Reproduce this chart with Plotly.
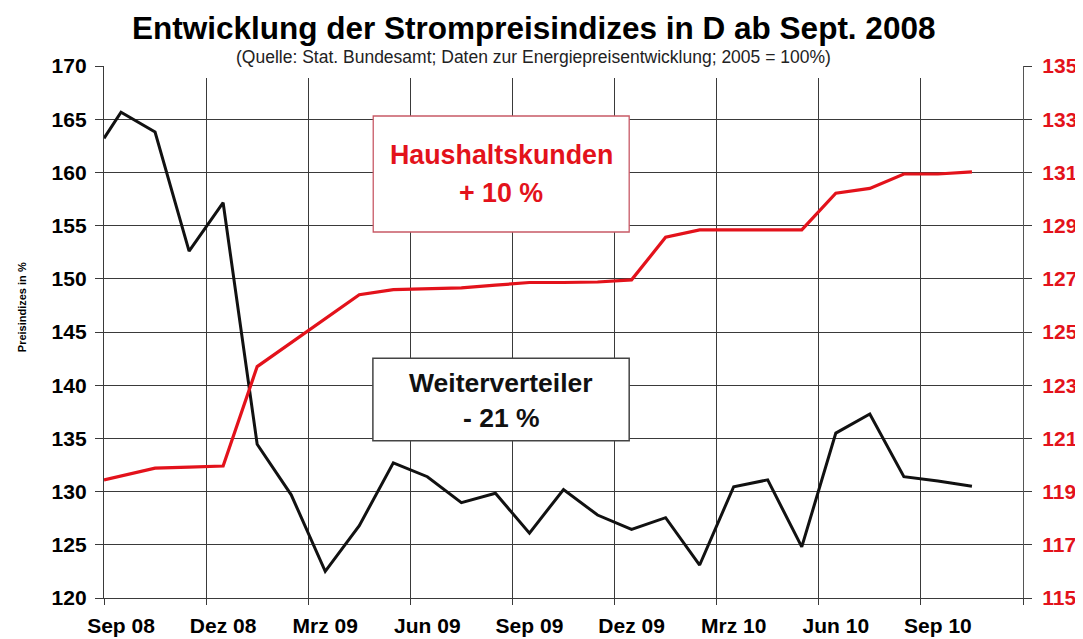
import plotly.graph_objects as go

# ---- data ----
month_labels = ["Sep 08", "Dez 08", "Mrz 09", "Jun 09", "Sep 09", "Dez 09", "Mrz 10", "Jun 10", "Sep 10"]
label_pos = [0.5, 3.5, 6.5, 9.5, 12.5, 15.5, 18.5, 21.5, 24.5]
grid_pos = [0, 3, 6, 9, 12, 15, 18, 21, 24, 27]

weiter_x = [0, 0.5, 1.5, 2.5, 3.5, 4.5, 5.5, 6.5, 7.5, 8.5, 9.5, 10.5, 11.5, 12.5,
            13.5, 14.5, 15.5, 16.5, 17.5, 18.5, 19.5, 20.5, 21.5, 22.5, 23.5, 24.5, 25.5]
weiter_y = [163.2, 165.65, 163.8, 152.6, 157.15, 134.45, 129.7, 122.5, 126.8, 132.7, 131.4, 128.96,
            129.84, 126.1, 130.2, 127.8, 126.45, 127.55, 123.1, 130.46, 131.1, 124.8, 135.5, 137.3,
            131.4, 131.0, 130.5]

haushalt_x = [0, 1.5, 2.5, 3.5, 4.5, 5.5, 6.5, 7.5, 8.5, 9.5, 10.5, 11.5, 12.5, 13.5,
              14.5, 15.5, 16.5, 17.5, 18.5, 19.5, 20.5, 21.5, 22.5, 23.5, 24.5, 25.5]
haushalt_y = [119.44, 119.88, 119.92, 119.96, 123.7, 124.6, 125.5, 126.4, 126.59, 126.64, 126.66,
              126.76, 126.86, 126.86, 126.88, 126.96, 128.56, 128.84, 128.84, 128.84, 128.84,
              130.22, 130.4, 130.94, 130.94, 131.02]

FONT = "Arial, Liberation Sans, sans-serif"
RED = "#e3121b"
GRID = "#3a3a3a"

fig = go.Figure()
fig.add_trace(go.Scatter(x=weiter_x, y=weiter_y, mode="lines", name="Weiterverteiler",
                         line=dict(color="#111111", width=3), xaxis="x", yaxis="y"))
fig.add_trace(go.Scatter(x=haushalt_x, y=haushalt_y, mode="lines", name="Haushaltskunden",
                         line=dict(color=RED, width=3.2), xaxis="x", yaxis="y2"))

# the page puts the figure 8px in from the top-left corner
fig.update_layout(
    width=1075, height=631,
    margin=dict(l=96, r=60, t=58, b=41, autoexpand=False),
    paper_bgcolor="white", plot_bgcolor="white",
    showlegend=False,
    xaxis=dict(
        range=[0, 27], tickmode="array", tickvals=label_pos, ticktext=month_labels,
        ticks="", showgrid=False, zeroline=False, automargin=False,
        showline=True, linecolor=GRID, linewidth=1.3,
        tickfont=dict(family=FONT, size=21, color="black", weight="bold"),
        ticklabelstandoff=9,
        minor=dict(tickmode="array", tickvals=grid_pos, showgrid=True, gridcolor=GRID,
                   gridwidth=1.3, ticks="outside", ticklen=6, tickcolor=GRID, tickwidth=1.3),
    ),
    yaxis=dict(
        range=[120, 170], tick0=120, dtick=5, showgrid=True, gridcolor=GRID, gridwidth=1.3,
        zeroline=False, ticks="outside", ticklen=8, tickcolor=GRID, tickwidth=1.3,
        showline=True, linecolor=GRID, linewidth=1.3, automargin=False,
        tickfont=dict(family=FONT, size=21, color="black", weight="bold"),
        ticklabelstandoff=4,
    ),
    yaxis2=dict(
        range=[115, 135], tick0=115, dtick=2, overlaying="y", side="right", anchor="x",
        showgrid=False, zeroline=False, ticks="outside", ticklen=8, tickcolor=GRID, tickwidth=1.3,
        showline=True, linecolor="#555555", linewidth=1.3, automargin=False,
        tickfont=dict(family=FONT, size=21, color=RED, weight="bold"),
        ticklabelstandoff=6,
    ),
)

# white band behind subtitle hiding the top gridline
fig.add_shape(type="rect", xref="paper", yref="paper", x0=0.026, x1=0.906, y0=0.9774, y1=1.06,
              fillcolor="white", line=dict(width=0), layer="above")

# label boxes
fig.add_shape(type="rect", xref="x", yref="y", x0=7.91, x1=15.43, y0=154.4, y1=165.3,
              fillcolor="white", line=dict(color="#c85a66", width=1.3), layer="above")
fig.add_shape(type="rect", xref="x", yref="y", x0=7.9, x1=15.43, y0=134.78, y1=142.53,
              fillcolor="white", line=dict(color="#444444", width=1.5), layer="above")

def txt(x, y, s, size, color, bold=True, xref="x", yref="y", **kw):
    fig.add_annotation(x=x, y=y, xref=xref, yref=yref, text=s, showarrow=False,
                       font=dict(family=FONT, size=size, color=color,
                                 weight="bold" if bold else "normal"),
                       xanchor="center", yanchor="middle", **kw)

txt(11.67, 161.64, "Haushaltskunden", 26.8, RED)
txt(11.67, 158.06, "+ 10 %", 26.8, RED)
txt(11.67, 140.18, "Weiterverteiler", 26.5, "#111111")
txt(11.67, 136.89, "- 21 %", 26.5, "#111111")

# title, subtitle, y-axis title
txt(0.4675, 1.0714, "Entwicklung der Strompreisindizes in D ab Sept. 2008", 31.5, "black",
    xref="paper", yref="paper")
txt(0.467, 1.0165, "(Quelle: Stat. Bundesamt; Daten zur Energiepreisentwicklung; 2005 = 100%)",
    17.5, "#222222", bold=False, xref="paper", yref="paper")
txt(-0.089, 0.547, "Preisindizes in %", 11, "black", xref="paper", yref="paper", textangle=-90)

fig.write_html("out.html")
